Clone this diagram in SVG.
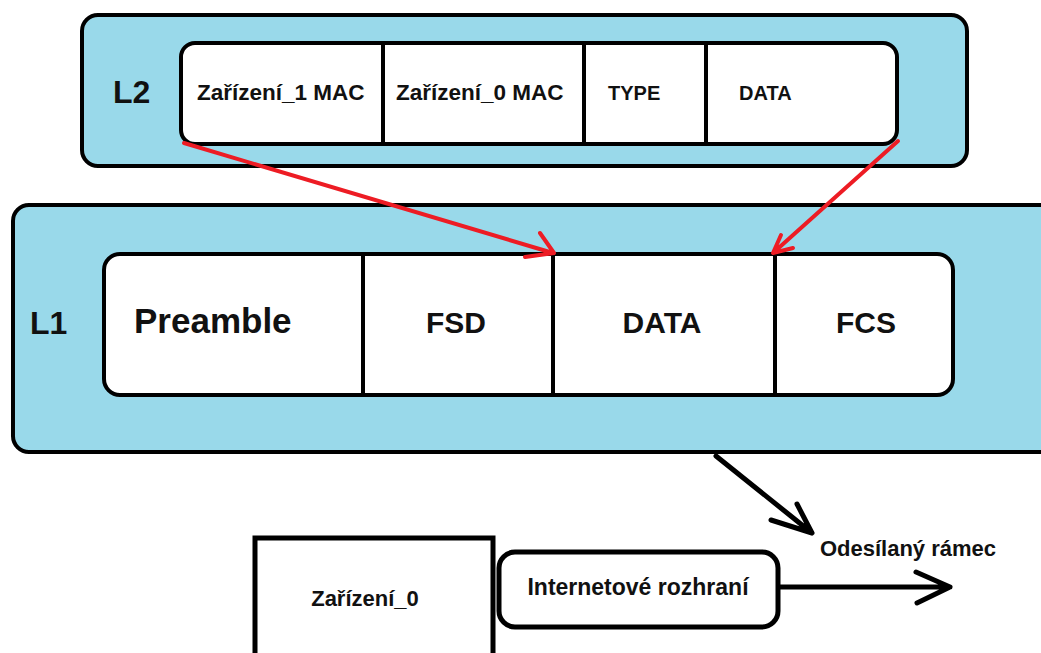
<svg xmlns="http://www.w3.org/2000/svg" width="1041" height="653" viewBox="0 0 1041 653">
  <style>
    .layer { fill: #99D9EA; stroke: #000; stroke-width: 4; }
    .frame { fill: #fff; stroke: #000; stroke-width: 4; }
    .div { stroke: #000; stroke-width: 4; }
    .box { fill: #fff; stroke: #000; stroke-width: 5; }
    .t { font-family: "Liberation Sans", Arial, sans-serif; font-weight: bold; fill: #111; }
    .red { stroke: #ED1C24; stroke-width: 4; fill: none; stroke-linecap: round; stroke-linejoin: round; }
    .blk { stroke: #000; stroke-width: 5; fill: none; stroke-linecap: round; stroke-linejoin: round; }
  </style>
  <rect width="1041" height="653" fill="#fff"/>

  <!-- Layer 2 frame -->
  <g id="l2">
    <rect class="layer" x="82" y="15" width="885" height="151" rx="16"/>
    <text class="t" x="113" y="103" font-size="32">L2</text>
    <rect class="frame" x="181" y="43" width="716" height="101" rx="14"/>
    <line class="div" x1="383" y1="43" x2="383" y2="144"/>
    <line class="div" x1="584" y1="43" x2="584" y2="144"/>
    <line class="div" x1="706" y1="43" x2="706" y2="144"/>
    <text class="t" x="197" y="100" font-size="22.5">Zařízení_1 MAC</text>
    <text class="t" x="396" y="100" font-size="22.5">Zařízení_0 MAC</text>
    <text class="t" x="608" y="100" font-size="20">TYPE</text>
    <text class="t" x="739" y="100" font-size="20">DATA</text>
  </g>

  <!-- Layer 1 frame -->
  <g id="l1">
    <rect class="layer" x="13" y="205" width="1045" height="247" rx="16"/>
    <text class="t" x="30" y="334" font-size="32">L1</text>
    <rect class="frame" x="104" y="254" width="849" height="141" rx="16"/>
    <line class="div" x1="363" y1="254" x2="363" y2="395"/>
    <line class="div" x1="553" y1="254" x2="553" y2="395"/>
    <line class="div" x1="775" y1="254" x2="775" y2="395"/>
    <text class="t" x="134" y="333" font-size="35">Preamble</text>
    <text class="t" x="456" y="333" font-size="30" text-anchor="middle">FSD</text>
    <text class="t" x="662" y="333" font-size="30" text-anchor="middle">DATA</text>
    <text class="t" x="866" y="333" font-size="30" text-anchor="middle">FCS</text>
  </g>

  <!-- Device -->
  <g id="device">
    <rect class="box" x="255" y="538" width="238" height="130"/>
    <text class="t" x="365" y="606" font-size="22" text-anchor="middle">Zařízení_0</text>
  </g>

  <!-- Network interface -->
  <g id="iface">
    <rect class="box" x="499" y="552" width="279" height="75" rx="16"/>
    <text class="t" x="638" y="595" font-size="23" text-anchor="middle">Internetové rozhraní</text>
  </g>

  <g id="label-frame">
    <text class="t" x="908" y="556" font-size="22" text-anchor="middle">Odesílaný rámec</text>
  </g>

  <!-- Connectors -->
  <g id="connectors">
    <path class="red" d="M184 143 L553 253 M540 233 L554 253 L525 257"/>
    <path class="red" d="M898 141 L773 253 M781 235 L773 253 L793 248"/>
    <path class="blk" d="M716 456 L812 533 M797 504 L812 533 L771 520"/>
    <path class="blk" d="M780 587 L950 587 M916 572 L950 587 L917 603"/>
  </g>
</svg>
